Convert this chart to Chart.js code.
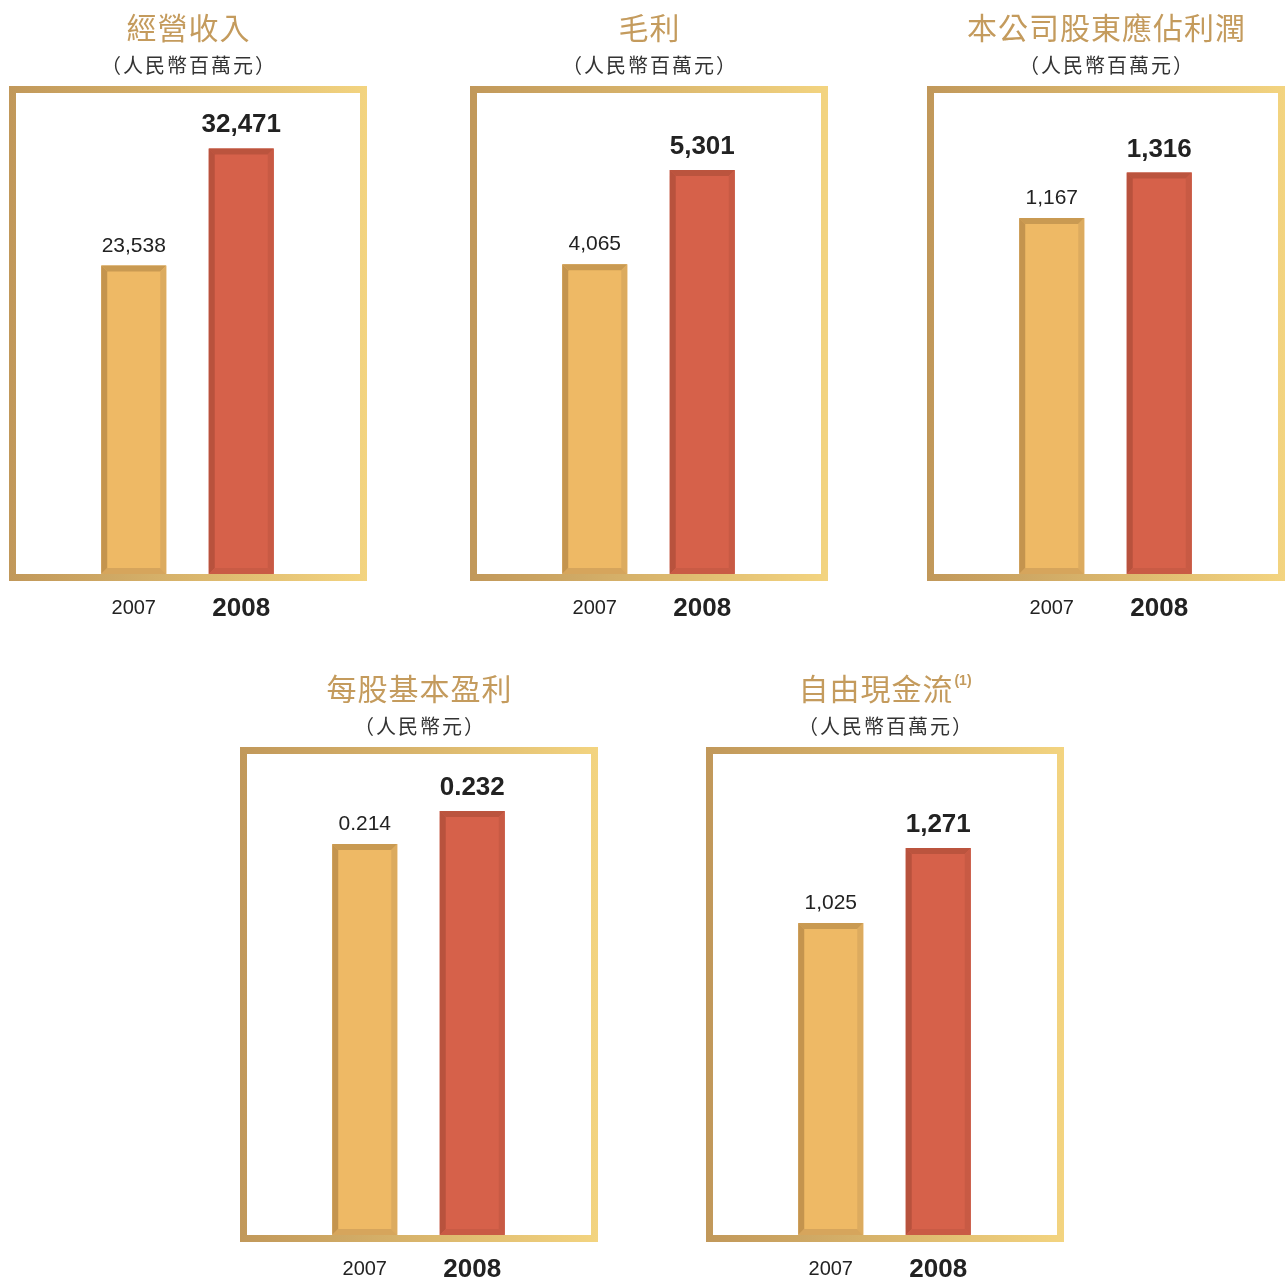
<!DOCTYPE html>
<html>
<head>
<meta charset="utf-8">
<script src="https://cdn.jsdelivr.net/npm/chart.js@4/dist/chart.umd.min.js"></script>
<style>
  html, body { margin: 0; padding: 0; background: #fff; overflow: hidden; }
  body { width: 1286px; height: 1282px; position: relative; }
  canvas { position: absolute; }
  #c0 { left: 0px;   top: 0px; }
  #c1 { left: 461px; top: 0px; }
  #c2 { left: 918px; top: 0px; }
  #c3 { left: 231px; top: 661px; }
  #c4 { left: 697px; top: 661px; }
</style>
</head>
<body>
<canvas id="c0" width="368" height="640"></canvas>
<canvas id="c1" width="368" height="640"></canvas>
<canvas id="c2" width="368" height="640"></canvas>
<canvas id="c3" width="368" height="621"></canvas>
<canvas id="c4" width="368" height="621"></canvas>
<script>
// datos
const anos = ["2007", "2008"];
const titulos = ["經營收入", "毛利", "本公司股東應佔利潤", "每股基本盈利", "自由現金流"];
const notas = ["", "", "", "", "(1)"];
const unidades = ["（人民幣百萬元）", "（人民幣百萬元）", "（人民幣百萬元）", "（人民幣元）", "（人民幣百萬元）"];
const valores2007 = [23538, 4065, 1167, 0.214, 1025];
const valores2008 = [32471, 5301, 1316, 0.232, 1271];
const eixoMax = [36700, 6310, 1577, 0.2632, 1580];
const casasDecimais = [0, 0, 0, 3, 0];

const BASE_Y = 574; // fundo da area do grafico dentro do canvas
const CENTRO_X = 188; // centro da moldura
const corBarra = ["#eeb965", "#d6614a"];
const chanfro = [
  { top: "#c99a52", left: "#c4944e", right: "#dcab5f", bottom: "#d6a55c" },
  { top: "#bb543e", left: "#b8523d", right: "#c85a44", bottom: "#c95b45" }
];

const molduraPlugin = {
  id: "moldura",
  beforeDatasetsDraw(chart) {
    const ctx = chart.ctx;
    const g = ctx.createLinearGradient(9, 0, 367, 0);
    g.addColorStop(0, "#c1985a");
    g.addColorStop(0.5, "#d9b56c");
    g.addColorStop(1, "#f3d480");
    ctx.save();
    ctx.strokeStyle = g;
    ctx.lineWidth = 7;
    ctx.strokeRect(12.5, 89.5, 351, 488);
    ctx.restore();
  }
};

const tituloPlugin = {
  id: "titulo",
  afterDraw(chart, args, opts) {
    const ctx = chart.ctx;
    ctx.save();
    ctx.textBaseline = "middle";
    // titulo principal
    ctx.font = "30px 'Noto Sans CJK TC', sans-serif";
    ctx.letterSpacing = "1px";
    ctx.fillStyle = "#c49b5d";
    const wT = ctx.measureText(opts.texto).width - 1;
    let wN = 0;
    if (opts.nota) {
      ctx.font = "bold 14px 'Liberation Sans', Arial, sans-serif";
      ctx.letterSpacing = "0px";
      wN = ctx.measureText(opts.nota).width + 2;
    }
    const x0 = CENTRO_X - (wT + wN) / 2;
    ctx.textAlign = "left";
    ctx.font = "30px 'Noto Sans CJK TC', sans-serif";
    ctx.letterSpacing = "1px";
    ctx.fillText(opts.texto, x0, 28);
    if (opts.nota) {
      ctx.font = "bold 14px 'Liberation Sans', Arial, sans-serif";
      ctx.letterSpacing = "0px";
      ctx.fillText(opts.nota, x0 + wT + 2, 20);
    }
    // unidade
    ctx.font = "20px 'Noto Sans CJK TC', sans-serif";
    ctx.letterSpacing = "2px";
    ctx.fillStyle = "#333";
    ctx.textAlign = "center";
    ctx.fillText(opts.unidade, CENTRO_X + 1, 65);
    ctx.restore();
  }
};

const chanfroPlugin = {
  id: "chanfro",
  afterDatasetsDraw(chart) {
    const ctx = chart.ctx;
    const b = 6;
    chart.getDatasetMeta(0).data.forEach((bar, i) => {
      const l = bar.x - bar.width / 2, r = bar.x + bar.width / 2;
      const t = bar.y, bo = bar.base;
      const c = chanfro[i];
      const poly = (pts, cor) => {
        ctx.beginPath();
        ctx.moveTo(pts[0][0], pts[0][1]);
        pts.slice(1).forEach(p => ctx.lineTo(p[0], p[1]));
        ctx.closePath();
        ctx.fillStyle = cor;
        ctx.fill();
      };
      ctx.save();
      poly([[l, t], [r, t], [r - b, t + b], [l + b, t + b]], c.top);
      poly([[l, t], [l + b, t + b], [l + b, bo - b], [l, bo]], c.left);
      poly([[r, t], [r, bo], [r - b, bo - b], [r - b, t + b]], c.right);
      poly([[l, bo], [l + b, bo - b], [r - b, bo - b], [r, bo]], c.bottom);
      ctx.restore();
    });
  }
};

const rotulosPlugin = {
  id: "rotulos",
  afterDatasetsDraw(chart, args, opts) {
    const ctx = chart.ctx;
    const ds = chart.data.datasets[0];
    const fmt = new Intl.NumberFormat("en-US", {
      minimumFractionDigits: opts.decimais,
      maximumFractionDigits: opts.decimais
    });
    ctx.save();
    ctx.textAlign = "center";
    ctx.textBaseline = "alphabetic";
    ctx.fillStyle = "#222";
    chart.getDatasetMeta(0).data.forEach((bar, i) => {
      if (i === 1) {
        ctx.font = "bold 26px 'Liberation Sans', Arial, sans-serif";
        ctx.fillText(fmt.format(ds.data[i]), bar.x, bar.y - 16);
      } else {
        ctx.font = "21px 'Liberation Sans', Arial, sans-serif";
        ctx.fillText(fmt.format(ds.data[i]), bar.x, bar.y - 14);
      }
    });
    ctx.restore();
  }
};

function criarGrafico(n) {
  const ctx = document.getElementById("c" + n).getContext("2d");
  new Chart(ctx, {
    type: "bar",
    data: {
      labels: anos,
      datasets: [{
        data: [valores2007[n], valores2008[n]],
        backgroundColor: corBarra,
        borderWidth: 0,
        barPercentage: 0.605,
        categoryPercentage: 1
      }]
    },
    options: {
      responsive: false,
      animation: false,
      devicePixelRatio: 1,
      layout: { padding: { left: 80, right: 73, top: 93, bottom: 0 } },
      plugins: {
        legend: { display: false },
        tooltip: { enabled: false },
        titulo: { texto: titulos[n], nota: notas[n], unidade: unidades[n] },
        rotulos: { decimais: casasDecimais[n] }
      },
      scales: {
        x: {
          grid: { display: false, drawTicks: false },
          border: { display: false },
          afterFit: s => { s.height = s.chart.height - BASE_Y; },
          ticks: {
            color: "#222",
            padding: 19,
            maxRotation: 0,
            font: c => c.index === 1
              ? { family: "'Liberation Sans', Arial, sans-serif", size: 26, weight: "bold", lineHeight: 1.2 }
              : { family: "'Liberation Sans', Arial, sans-serif", size: 20, weight: "normal", lineHeight: "31.2px" }
          }
        },
        y: { display: false, min: 0, max: eixoMax[n] }
      }
    },
    plugins: [molduraPlugin, chanfroPlugin, rotulosPlugin, tituloPlugin]
  });
}

for (let i = 0; i < titulos.length; i++) criarGrafico(i);
</script>
</body>
</html>
